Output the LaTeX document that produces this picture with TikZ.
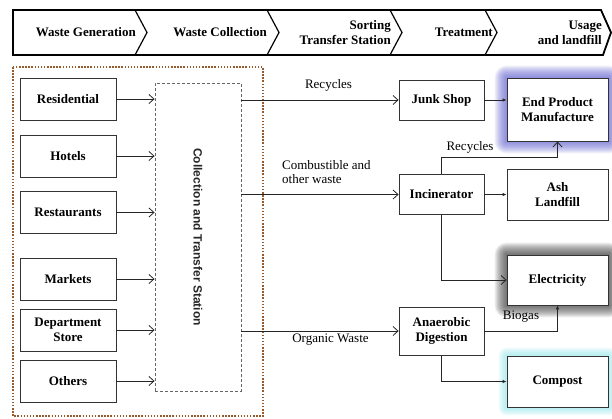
\documentclass[tikz,border=0pt]{standalone}
\usepackage{fontspec}
\setmainfont{Liberation Serif}
\newfontfamily\ctsfont{Liberation Sans}
\usetikzlibrary{arrows.meta,calc,backgrounds}
\definecolor{dotbrown}{RGB}{150,90,45}
\definecolor{glowblue}{RGB}{95,95,205}
\definecolor{glowcyan}{RGB}{150,230,235}
\newcommand\mkglow[4]{%
  \foreach \r in {1,...,#4}{%
    \fill[#2, opacity=#3, rounded corners=\r pt] ($(#1.south west)+(-\r,\r)$) rectangle ($(#1.north east)+(\r,-\r)$);}}
\begin{document}
\begin{tikzpicture}[x=1pt,y=-1pt,
  box/.style={draw=black!80, line width=0.8pt, fill=white, font=\fontsize{13}{15}\selectfont\bfseries, align=center, inner sep=0pt},
  btxt/.style={font=\fontsize{13}{15}\selectfont\bfseries, inner sep=0pt},
  lbl/.style={font=\fontsize{13}{14.5}\selectfont, inner sep=0pt},
  oarr/.style={draw=black!85, line width=0.8pt, -{Straight Barb[length=5pt,width=9pt]}},
  farr/.style={draw=black!85, line width=0.8pt, -{Latex[length=4pt,width=3.5pt]}},
  srcbox/.style={box, minimum width=96pt, minimum height=42pt},
  midbox/.style={box, minimum width=85pt},
  endbox/.style={box, minimum width=101pt}
]
\useasboundingbox (0,0) rectangle (612,418);

% banner
\draw[line width=1.8pt, line join=miter] (13,10) -- (601,10) -- (611,32.5) -- (603,55) -- (13,55) -- cycle;
\foreach \s in {135,267,390,485} \draw[line width=1.2pt] (\s,10) -- (\s+12,32.5) -- (\s,55);
\node[btxt, anchor=east] (b1) at (136,32.5) {Waste Generation};
\node[btxt, anchor=east] (b2) at (267,32.5) {Waste Collection};
\node[btxt, anchor=east, align=right] (b3) at (391,32.5) {Sorting\\Transfer Station};
\node[btxt, anchor=east] (b4) at (493,32.5) {Treatment};
\node[btxt, anchor=east, align=right] (b5) at (602,32.5) {Usage\\and landfill};

% outer dotted frame
\draw[dotbrown, line width=1.5pt, dash pattern=on 1.5pt off 1.6pt] (13,67) rectangle (263,416);

% sources
\node[srcbox] (res) at (68,99) {Residential};
\node[srcbox] (hot) at (68,156) {Hotels};
\node[srcbox] (rst) at (68,212.5) {Restaurants};
\node[srcbox] (mkt) at (68,279) {Markets};
\node[srcbox] (dep) at (68,330) {Department\\Store};
\node[srcbox] (oth) at (68,381) {Others};

% collection and transfer station
\node[draw=black!60, line width=0.9pt, dash pattern=on 3pt off 2pt, fill=white, minimum width=86pt, minimum height=308pt, inner sep=0pt] (cts) at (198,237) {};
\node[rotate=-90, font=\ctsfont\fontsize{12}{14}\selectfont\bfseries, text=black!85, inner sep=0pt] (ctst) at (cts.center) {Collection and Transfer Station};

\foreach \n in {res,hot,rst,mkt,dep,oth} \draw[oarr] (\n.east) -- (\n.east -| cts.west);

% treatment and usage
\node[midbox, minimum height=40pt] (js) at (441.5,100) {Junk Shop};
\node[endbox, minimum height=63pt] (epm) at (557.5,109.5) {End Product\\Manufacture};
\node[midbox, minimum height=40pt] (inc) at (441.5,194.5) {Incinerator};
\node[endbox, minimum height=51pt] (ash) at (557.5,194.5) {Ash\\Landfill};
\node[endbox, minimum height=50pt] (elec) at (557.5,280) {Electricity};
\node[midbox, minimum height=48pt] (ad) at (441.5,331) {Anaerobic\\Digestion};
\node[endbox, minimum height=51pt] (comp) at (557.5,381.5) {Compost};

\begin{scope}[on background layer]
  \mkglow{epm}{glowblue}{0.09}{12}
  \mkglow{elec}{black!80}{0.085}{12}
  \mkglow{comp}{glowcyan}{0.12}{8}
\end{scope}

% connectors
\draw[oarr] (cts.east |- js.west) -- (js.west);
\draw[farr] (js.east) -- (js.east -| epm.west);
\draw[oarr] (cts.east |- inc.west) -- (inc.west);
\draw[farr] (inc.east) -- (ash.west);
\draw[oarr] (inc.north) -- ++(0,-17) -| (epm.south);
\draw[oarr] (inc.south) |- (elec.west);
\draw[oarr] (cts.east |- ad.west) -- (ad.west);
\draw[farr] (ad.east) -| (elec.south);
\draw[farr] (ad.south) |- (comp.west);

% labels
\node[lbl] (l1) at (328.5,85) {Recycles};
\node[lbl] (l2) at (470,147) {Recycles};
\node[lbl, anchor=west, align=left] (l3) at (282,172) {Combustible and\\other waste};
\node[lbl] (l4) at (330.5,340) {Organic Waste};
\node[lbl] (l5) at (521,317) {Biogas};
\end{tikzpicture}
\end{document}
